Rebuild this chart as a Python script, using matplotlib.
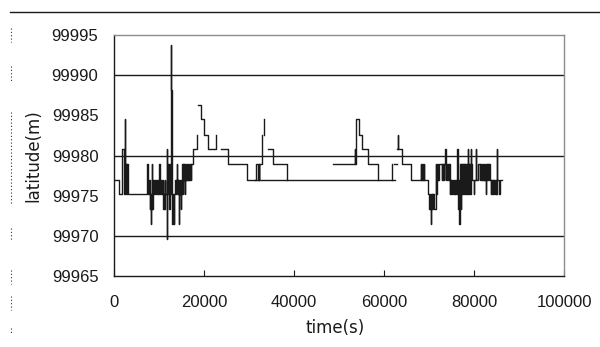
import numpy as np
import matplotlib.pyplot as plt
from matplotlib.lines import Line2D

plt.rcParams['font.family'] = ['Liberation Sans', 'DejaVu Sans']

# latitude record (time in s, latitude in m)
seg1_t = [0, 1240, 1780, 2290, 2510, 2570, 2700, 2800, 2900, 3000, 3100, 3200, 3240,
          7460, 7520, 7900, 8000, 8060, 8150, 8200, 8280, 8340, 8430, 8490, 8550, 8650,
          8750, 8850, 8950, 9050, 9160, 9390, 9500, 9600, 9700, 9800, 9900, 10000, 10120,
          10180, 10250, 10350, 10430, 10720, 10820, 10920, 11010, 11100, 11200, 11300,
          11380, 11460, 11760, 11800, 11860, 12120, 12200, 12280, 12360, 12440, 12520,
          12600, 12650, 12780, 12820, 12870, 12920, 12980, 13030, 13090, 13150, 13210,
          13380, 13440, 13670, 13770, 13870, 13980, 14040, 14140, 14240, 14340, 14490,
          14550, 14650, 14750, 14850, 14930, 15000, 15100, 15220, 15320, 15420, 15520,
          15620, 15720, 15820, 15920, 16020, 16120, 16220, 16330, 16430, 16530, 16630,
          16730, 16830, 16930, 17030, 17130, 17230, 17310, 17660, 18550]
seg1_v = [99977.0, 99975.2, 99980.8, 99975.2, 99984.5, 99978.9, 99975.2, 99978.9, 99975.2,
          99978.9, 99975.2, 99978.9, 99975.2,
          99978.9, 99975.2, 99977.0, 99975.2, 99973.3, 99975.2, 99973.3, 99971.5, 99973.3,
          99978.9, 99975.2, 99973.3, 99977.0,
          99975.2, 99977.0, 99975.2, 99977.0, 99975.2, 99977.0, 99975.2, 99977.0, 99975.2,
          99977.0, 99975.2, 99977.0, 99978.9,
          99975.2, 99975.2, 99977.0, 99975.2, 99977.0, 99975.2, 99977.0, 99973.3, 99975.2,
          99973.3, 99975.2,
          99977.0, 99975.2, 99980.8, 99969.6, 99975.2, 99978.9, 99975.2, 99978.9, 99973.3,
          99978.9, 99975.2,
          99978.9, 99975.2, 99993.8, 99988.2, 99982.6, 99988.2, 99982.6, 99971.5, 99975.2,
          99971.5, 99975.2,
          99971.5, 99975.2, 99977.0, 99975.2, 99977.0, 99978.9, 99975.2, 99977.0, 99975.2,
          99977.0, 99971.5,
          99975.2, 99977.0, 99975.2, 99977.0, 99973.3, 99975.2, 99977.0, 99978.9, 99975.2,
          99978.9, 99977.0,
          99978.9, 99975.2, 99978.9, 99977.0, 99978.9, 99977.0, 99978.9, 99977.0, 99978.9,
          99977.0, 99978.9,
          99977.0, 99978.9, 99977.0, 99978.9, 99977.0, 99978.9, 99978.9, 99980.8, 99982.6]

seg2_t = [18770, 19370, 20100, 20990, 22810]
seg2_v = [99986.3, 99984.5, 99982.6, 99980.8, 99982.6]

seg3_t = [23810, 25430, 29690, 62420]
seg3_v = [99980.8, 99978.9, 99977.0, 99977.0]

seg4_t = [31400, 31510, 32090, 32160, 32230, 32300, 32840]
seg4_v = [99977.0, 99978.9, 99977.0, 99978.9, 99977.0, 99978.9, 99982.6]

seg5_t = [33420, 33420]
seg5_v = [99982.6, 99984.5]

seg6_t = [34310, 35420, 38390]
seg6_v = [99980.8, 99978.9, 99977.0]

seg7_t = [48730, 53540, 53600, 53680, 53770, 54500, 55100, 56360, 58710]
seg7_v = [99978.9, 99980.8, 99978.9, 99980.8, 99984.5, 99982.6, 99980.8, 99978.9, 99977.0]

seg8_t = [61700, 61820]
seg8_v = [99977.0, 99978.9]

seg9_t = [62260, 62930]
seg9_v = [99978.9, 99978.9]

seg10_t = [62930, 63150, 63150, 64040, 65970, 68190, 68290, 68390, 68490, 68590, 68690,
           68800, 68920, 69680, 70030, 70130, 70230, 70340, 70400, 70500, 70600, 70700,
           70800, 70900, 71000, 71520, 71620, 71720, 71810, 71900, 72000, 72100, 72200,
           72300, 72850, 72950, 73050, 73150, 73250, 73360, 73580, 73640, 73700, 74000,
           74100, 74200, 74300, 74400, 74500, 74620, 74720, 74800, 74900, 75000, 75360,
           75580, 75700, 75850, 76000, 76150, 76250, 76310, 76450, 76550, 76690, 76750,
           76850, 76950, 77050, 77150, 77250, 77350, 77450, 77580, 77700, 77820, 77950,
           78070, 78190, 78300, 78420, 78550, 78610, 78700, 78820, 78940, 79060, 79220,
           79280, 79350, 79440, 79950, 80020, 80400, 80460, 80770, 81280, 81400, 81520,
           81640, 81760, 81880, 82000, 82120, 82240, 82360, 82480, 82610, 82670, 82780,
           82900, 83020, 83140, 83260, 83380, 83500, 83660, 83780, 83900, 84020, 84140,
           84260, 84380, 84500, 84620, 84740, 84860, 84990, 85050, 85560, 85620, 86100]
seg10_v = [99980.8, 99982.6, 99980.8, 99978.9, 99977.0, 99978.9, 99977.0, 99978.9, 99977.0,
           99978.9, 99977.0,
           99978.9, 99977.0, 99975.2, 99973.3, 99975.2, 99973.3, 99971.5, 99973.3, 99975.2,
           99973.3, 99975.2,
           99973.3, 99975.2, 99973.3, 99978.9, 99975.2, 99978.9, 99977.0, 99978.9, 99977.0,
           99978.9, 99977.0,
           99978.9, 99977.0, 99978.9, 99977.0, 99978.9, 99977.0, 99978.9, 99980.8, 99977.0,
           99978.9, 99977.0,
           99978.9, 99977.0, 99978.9, 99977.0, 99978.9, 99975.2, 99977.0, 99975.2, 99977.0,
           99975.2, 99977.0,
           99975.2, 99977.0, 99975.2, 99977.0, 99975.2, 99980.8, 99975.2, 99973.3, 99977.0,
           99971.5, 99978.9,
           99973.3, 99978.9, 99973.3, 99978.9, 99975.2, 99978.9, 99975.2, 99978.9, 99975.2,
           99978.9, 99975.2,
           99978.9, 99975.2, 99978.9, 99975.2, 99980.8, 99975.2, 99978.9, 99975.2, 99978.9,
           99975.2, 99980.8,
           99975.2, 99978.9, 99977.0, 99975.2, 99977.0, 99980.8, 99977.0, 99978.9, 99977.0,
           99978.9, 99977.0,
           99978.9, 99977.0, 99978.9, 99977.0, 99978.9, 99977.0, 99978.9, 99977.0, 99975.2,
           99978.9, 99977.0,
           99978.9, 99977.0, 99978.9, 99977.0, 99978.9, 99977.0, 99975.2, 99977.0, 99975.2,
           99977.0, 99975.2,
           99977.0, 99975.2, 99977.0, 99975.2, 99977.0, 99975.2, 99980.8, 99977.0, 99975.2,
           99977.0, 99977.0]

segments = [(seg1_t, seg1_v), (seg2_t, seg2_v), (seg3_t, seg3_v), (seg4_t, seg4_v),
            (seg5_t, seg5_v), (seg6_t, seg6_v), (seg7_t, seg7_v), (seg8_t, seg8_v),
            (seg9_t, seg9_v), (seg10_t, seg10_v)]

grid_y = [99970, 99980, 99990]
y_ticks = [99965, 99970, 99975, 99980, 99985, 99990, 99995]
x_ticks = [0, 20000, 40000, 60000, 80000, 100000]

fig = plt.figure(figsize=(6, 3.47), dpi=100)
fig.patch.set_facecolor('white')
ax = fig.add_axes([0.1895, 0.2046, 0.751, 0.6945])

for g in grid_y:
    ax.axhline(g, color='#1a1a1a', lw=1.0, zorder=1)

for t, v in segments:
    ax.plot(t, v, drawstyle='steps-post', color='#1a1a1a', lw=1.0, zorder=2)

ax.set_xlim(0, 100000)
ax.set_ylim(99965, 99995)
ax.set_xticks(x_ticks)
ax.set_yticks(y_ticks)
ax.set_xticklabels([str(x) for x in x_ticks])
ax.set_yticklabels([str(y) for y in y_ticks])
ax.tick_params(axis='y', length=0, pad=11, labelsize=12, colors='#1a1a1a')
ax.tick_params(axis='x', direction='in', length=4, pad=14, labelsize=12, colors='#1a1a1a')

for s in ['top', 'right']:
    ax.spines[s].set_color('#8c8c8c')
for s in ['left', 'bottom']:
    ax.spines[s].set_color('#1a1a1a')
for s in ax.spines.values():
    s.set_linewidth(1.0)

fig.text(33 / 600, 1 - 156 / 347, 'latitude(m)', rotation=90, ha='center', va='center',
         fontsize=12, color='#1a1a1a', family='DejaVu Sans')
fig.text(335 / 600, 1 - 328 / 347, 'time(s)', ha='center', va='center',
         fontsize=12, color='#1a1a1a', family='DejaVu Sans')

# frame line across the top and the dotted edge on the left
fig.add_artist(Line2D([10 / 600, 1.0], [1 - 12.3 / 347] * 2, color='#1a1a1a', lw=1.0))
for y0, y1 in [(28, 42), (66, 82), (112, 204), (228, 240), (270, 284), (296, 310), (328, 333)]:
    fig.add_artist(Line2D([10.5 / 600] * 2, [1 - y0 / 347, 1 - y1 / 347], color='#333333',
                          lw=0.8, linestyle=(0, (1, 2))))

plt.savefig('out.png', dpi=100)
